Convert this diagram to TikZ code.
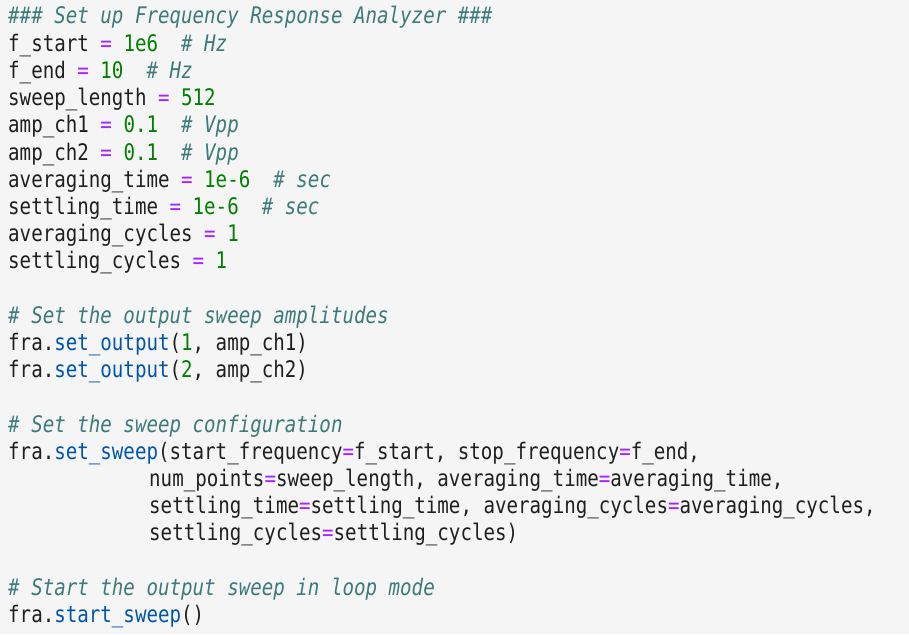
\documentclass[tikz,border=0pt]{standalone}
\usepackage{fontspec}
\setmonofont[FakeStretch=0.84]{DejaVu Sans Mono}
\usepackage{tikz}
\usetikzlibrary{positioning}
\definecolor{bg}{HTML}{F5F5F5}
\definecolor{cmt}{HTML}{3D7A7A}
\definecolor{num}{HTML}{008000}
\definecolor{opr}{HTML}{AA22FF}
\definecolor{fun}{HTML}{0055AA}
\definecolor{txt}{HTML}{1F1F1F}
\newcommand\cmt[1]{{\color{cmt}\itshape #1}}
\newcommand\nm[1]{{\color{num}#1}}
\newcommand\eq{{\color{opr}=}}
\newcommand\fn[1]{{\color{fun}#1}}
\tikzset{
        codeln/.style={anchor=base west, inner sep=0pt, text=txt,
                       font=\fontsize{22.8}{27}\ttfamily},
}
\newcommand\codeline[3][8]{\node[codeln] (l#2) at (#1,{-24-27.2*(#2-1)}) {#3};}
\begin{document}
\begin{tikzpicture}[x=1pt,y=1pt]
        \fill[bg] (0,0) rectangle (909,-634);
        \useasboundingbox (0,0) rectangle (909,-634);
        \codeline{1}{\cmt{\#\#\# Set up Frequency Response Analyzer \#\#\#}}
        \codeline{2}{f\_start \eq{} \nm{1e6}\ \ \cmt{\# Hz}}
        \codeline{3}{f\_end \eq{} \nm{10}\ \ \cmt{\# Hz}}
        \codeline{4}{sweep\_length \eq{} \nm{512}}
        \codeline{5}{amp\_ch1 \eq{} \nm{0.1}\ \ \cmt{\# Vpp}}
        \codeline{6}{amp\_ch2 \eq{} \nm{0.1}\ \ \cmt{\# Vpp}}
        \codeline{7}{averaging\_time \eq{} \nm{1e-6}\ \ \cmt{\# sec}}
        \codeline{8}{settling\_time \eq{} \nm{1e-6}\ \ \cmt{\# sec}}
        \codeline{9}{averaging\_cycles \eq{} \nm{1}}
        \codeline{10}{settling\_cycles \eq{} \nm{1}}
        \codeline{12}{\cmt{\# Set the output sweep amplitudes}}
        \codeline{13}{fra.\fn{set\_output}(\nm{1}, amp\_ch1)}
        \codeline{14}{fra.\fn{set\_output}(\nm{2}, amp\_ch2)}
        \codeline{16}{\cmt{\# Set the sweep configuration}}
        \codeline{17}{fra.\fn{set\_sweep}(start\_frequency\eq{}f\_start, stop\_frequency\eq{}f\_end,}
        \codeline[149]{18}{num\_points\eq{}sweep\_length, averaging\_time\eq{}averaging\_time,}
        \codeline[149]{19}{settling\_time\eq{}settling\_time, averaging\_cycles\eq{}averaging\_cycles,}
        \codeline[149]{20}{settling\_cycles\eq{}settling\_cycles)}
        \codeline{22}{\cmt{\# Start the output sweep in loop mode}}
        \codeline{23}{fra.\fn{start\_sweep}()}
\end{tikzpicture}
\end{document}
